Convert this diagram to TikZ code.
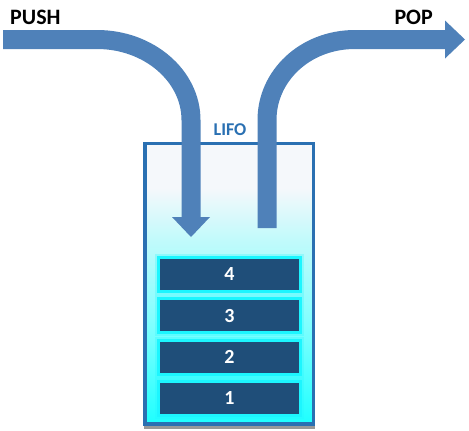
\documentclass[tikz,border=0pt]{standalone}
\usepackage{fontspec}
\setmainfont{Carlito}
\tikzset{>=latex}
\usetikzlibrary{positioning,arrows.meta,shadows}
\definecolor{arrowblue}{HTML}{4F81B9}
\definecolor{rimblue}{HTML}{2A70B2}
\definecolor{slotdark}{HTML}{1F4E79}
\definecolor{slotcyan}{HTML}{1CF6FF}
\definecolor{tanktop}{HTML}{F5F8FB}
\definecolor{tankmid}{HTML}{C2FAFB}
\definecolor{tanklow}{HTML}{7CFFFF}
\definecolor{tankbot}{HTML}{1EFFFF}
\pgfdeclareverticalshading{tankfill}{100bp}{color(0bp)=(tankbot); color(25bp)=(tankbot); color(42bp)=(tanklow); color(58bp)=(tankmid); color(67bp)=(tanktop); color(100bp)=(tanktop)}
\tikzset{
  slot/.style={draw=slotcyan, line width=3pt, fill=slotdark, minimum width=142pt, minimum height=34pt, inner sep=0pt, text=white, font=\fontsize{20}{22}\selectfont\bfseries, preaction={draw=slotcyan, draw opacity=.25, line width=7pt}},
  bigarrow/.style={draw=arrowblue, line width=19pt, -{Triangle[length=20pt,width=38pt,line width=0pt]}},
  headline/.style={inner sep=0pt, font=\fontsize{22}{26}\selectfont\bfseries}
}

\begin{document}
\begin{tikzpicture}[x=1pt,y=-1pt]
      \useasboundingbox (0,0) rectangle (469,431);
      \node[draw=rimblue, line width=3.5pt, shade, shading=tankfill, minimum width=168.5pt, minimum height=280.5pt, drop shadow={shadow xshift=.5pt, shadow yshift=-2pt, shadow scale=1.02, fill=black, opacity=.4}] (tank) at (229,283.5) {};
      \node[slot] (n4) at (229.5,274.5) {4};
      \node[slot, below=4.3pt of n4] (n3) {3};
      \node[slot, below=4.3pt of n3] (n2) {2};
      \node[slot, below=4.3pt of n2] (n1) {1};
      \node[headline, anchor=base west] (push) at (10,24) {PUSH};
      \node[headline, anchor=base east] (pop) at (433,24) {POP};
      \node[anchor=base, inner sep=0pt, text=rimblue, font=\fontsize{18}{22}\selectfont\bfseries] (lifo) at (230,135) {LIFO};
      \coordinate (pushin) at (3,39.5);
      \coordinate (pushend) at (191,237);
      \coordinate (popstart) at (267,228);
      \coordinate (popout) at (465,39.5);
      \draw[bigarrow] (pushin) -- ++(94,0) .. controls +(52,0) and +(0,-44) .. ++(94,80.5) -- (pushend);
      \draw[bigarrow] (popstart) -- ++(0,-108) .. controls +(0,-44) and +(-50,0) .. ++(88,-80.5) -- (popout);
\end{tikzpicture}
\end{document}
